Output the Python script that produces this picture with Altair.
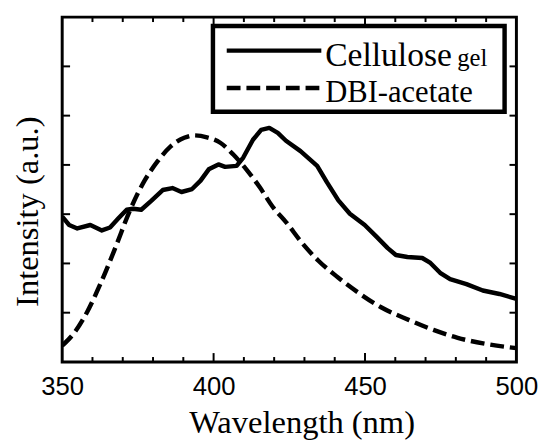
import altair as alt
import pandas as pd

# Cellulose gel emission (solid)
cell_wl = [350, 352.3, 355, 359.3, 363.1, 365.8, 368.5, 371.3, 373.4, 376.1, 379.4, 383.2,
           386.4, 389.4, 392.9, 395.7, 398.4, 401.6, 403.8, 407.6, 409.8, 413, 415.7, 418.4,
           421.2, 423.9, 428.7, 434.2, 437.4, 441.2, 445, 449.9, 453.7, 457.5, 460.2, 464,
           468.9, 471.6, 474.8, 478.1, 483.5, 488.9, 494.4, 500]
cell_int = [2.95, 2.78, 2.71, 2.78, 2.67, 2.73, 2.91, 3.09, 3.11, 3.09, 3.27, 3.49,
            3.53, 3.45, 3.51, 3.68, 3.91, 4.01, 3.96, 3.98, 4.15, 4.51, 4.71, 4.75,
            4.65, 4.49, 4.28, 3.98, 3.65, 3.28, 3.01, 2.78, 2.55, 2.31, 2.17, 2.13,
            2.11, 2.01, 1.81, 1.68, 1.58, 1.45, 1.38, 1.28]

# DBI-acetate emission (dashed)
dbi_wl = [350, 354.2, 358.2, 362.8, 367.5, 372.4, 377.2, 381.6, 385.9, 390.3, 393.5, 397.8,
          402.2, 406.5, 410.8, 415.2, 419.5, 423.9, 429.3, 434.7, 441.2, 447.7, 455.3,
          464.6, 472.6, 480.6, 489.7, 500]
dbi_int = [0.33, 0.61, 1.01, 1.61, 2.31, 3.08, 3.68, 4.08, 4.38, 4.55, 4.60, 4.56,
           4.45, 4.21, 3.91, 3.55, 3.15, 2.84, 2.41, 2.05, 1.71, 1.41, 1.11,
           0.85, 0.65, 0.49, 0.37, 0.28]

x_labels = [350, 400, 450, 500]
x_major_ticks = [400, 450]
x_minor_ticks = [360, 370, 380, 390, 410, 420, 430, 440, 460, 470, 480, 490]
y_ticks = [1, 2, 3, 4, 5, 6]
legend_labels = ["Cellulose", "gel", "DBI-acetate"]

W, H = 461, 350
SERIF = "Liberation Serif"
SANS = "Liberation Sans"

xscale = alt.Scale(domain=[350, 500], nice=False, zero=False)
yscale = alt.Scale(domain=[0, 7], nice=False, zero=False)

x_axis = alt.Axis(values=x_labels, ticks=False, tickSize=0, domain=False, grid=False,
                  labelFont=SANS, labelFontSize=26, labelColor="black",
                  labelPadding=33, labelBaseline="alphabetic", labelFlush=False,
                  labelOverlap=False, labelBound=False,
                  title="Wavelength (nm)", titleFont=SERIF, titleFontSize=33,
                  titleFontWeight="normal", titleColor="black",
                  titleX=243, titleY=72, titleAlign="center", titleBaseline="alphabetic")
y_axis = alt.Axis(labels=False, ticks=False, domain=False, grid=False,
                  title="Intensity (a.u.)", titleFont=SERIF, titleFontSize=33,
                  titleFontWeight="normal", titleColor="black",
                  titleX=-25, titleY=197, titleAngle=-90, titleAlign="center",
                  titleBaseline="alphabetic")

cell_df = pd.DataFrame({"wl": cell_wl, "intensity": cell_int})
dbi_df = pd.DataFrame({"wl": dbi_wl, "intensity": dbi_int})

cell = alt.Chart(cell_df).mark_line(color="black", strokeWidth=4.5, strokeJoin="round", clip=True).encode(
    x=alt.X("wl:Q", scale=xscale, axis=x_axis),
    y=alt.Y("intensity:Q", scale=yscale, axis=y_axis),
)
dbi = alt.Chart(dbi_df).mark_line(color="black", strokeWidth=4.5, strokeDash=[14, 6],
                                  interpolate="monotone", clip=True).encode(
    x=alt.X("wl:Q", scale=xscale),
    y=alt.Y("intensity:Q", scale=yscale),
)

maj_df = pd.DataFrame({"wl": x_major_ticks})
min_df = pd.DataFrame({"wl": x_minor_ticks})
yt_df = pd.DataFrame({"intensity": y_ticks})

tick_layers = [
    alt.Chart(maj_df).mark_rule(color="black", strokeWidth=2).encode(
        x=alt.X("wl:Q", scale=xscale), y=alt.value(H), y2=alt.value(H - 9)),
    alt.Chart(maj_df).mark_rule(color="black", strokeWidth=2).encode(
        x=alt.X("wl:Q", scale=xscale), y=alt.value(0), y2=alt.value(9)),
    alt.Chart(min_df).mark_rule(color="black", strokeWidth=2).encode(
        x=alt.X("wl:Q", scale=xscale), y=alt.value(H), y2=alt.value(H - 5)),
    alt.Chart(min_df).mark_rule(color="black", strokeWidth=2).encode(
        x=alt.X("wl:Q", scale=xscale), y=alt.value(0), y2=alt.value(5)),
    alt.Chart(yt_df).mark_rule(color="black", strokeWidth=2).encode(
        y=alt.Y("intensity:Q", scale=yscale), x=alt.value(0), x2=alt.value(8)),
    alt.Chart(yt_df).mark_rule(color="black", strokeWidth=2).encode(
        y=alt.Y("intensity:Q", scale=yscale), x=alt.value(W), x2=alt.value(W - 7)),
]

one = pd.DataFrame({"a": [0]})
legend_box = alt.Chart(one).mark_rect(fill="white", stroke="black", strokeWidth=4.5).encode(
    x=alt.value(153), x2=alt.value(449), y=alt.value(9), y2=alt.value(96))
legend_solid = alt.Chart(one).mark_rule(color="black", strokeWidth=4.5).encode(
    x=alt.value(167), x2=alt.value(263), y=alt.value(34))
legend_dash = alt.Chart(one).mark_rule(color="black", strokeWidth=4.5, strokeDash=[14, 6]).encode(
    x=alt.value(167), x2=alt.value(263), y=alt.value(72))
leg_t1 = alt.Chart(one).mark_text(text=legend_labels[0], font=SERIF, fontSize=34, align="left",
                                  baseline="alphabetic", color="black").encode(
    x=alt.value(267), y=alt.value(50))
leg_t2 = alt.Chart(one).mark_text(text=legend_labels[1], font=SERIF, fontSize=25, align="left",
                                  baseline="alphabetic", color="black").encode(
    x=alt.value(401), y=alt.value(50))
leg_t3 = alt.Chart(one).mark_text(text=legend_labels[2], font=SERIF, fontSize=31, align="left",
                                  baseline="alphabetic", color="black").encode(
    x=alt.value(267), y=alt.value(86))

chart = alt.layer(
    dbi, cell, *tick_layers, legend_box, legend_solid, legend_dash, leg_t1, leg_t2, leg_t3
).properties(
    width=W, height=H, autosize="none",
    padding={"left": 55, "top": 6, "right": 28, "bottom": 79},
    background="white",
).configure_view(stroke="black", strokeWidth=3)

chart.save("out.html", embed_options={"renderer": "svg", "actions": False})
